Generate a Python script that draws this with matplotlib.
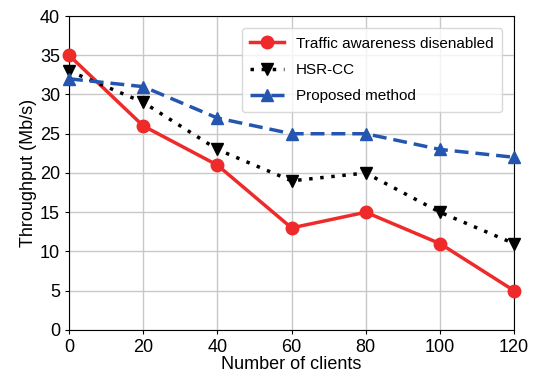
import numpy as np
import matplotlib
matplotlib.use('Agg')
import matplotlib.pyplot as plt

plt.rcParams['font.family'] = ['Liberation Sans', 'DejaVu Sans']

# throughput vs number of clients
clients = [0, 20, 40, 60, 80, 100, 120]
no_awareness = [35, 26, 21, 13, 15, 11, 5]
hsr_cc = [33, 29, 23, 19, 20, 15, 11]
proposed = [32, 31, 27, 25, 25, 23, 22]

fig = plt.figure(figsize=(5.35, 3.81), dpi=100)
ax = fig.add_axes([0.129, 0.134, 0.832, 0.824])

ax.plot(clients, no_awareness, color='#ee2a2a', lw=2.5, marker='o', ms=9,
        label='Traffic awareness disenabled', clip_on=False, zorder=3)
ax.plot(clients, hsr_cc, color='black', lw=2.5, ls=(0, (1, 2.2)), marker='v', ms=9,
        label='HSR-CC', clip_on=False, zorder=3)
ax.plot(clients, proposed, color='#2456b0', lw=2.5, ls=(0, (4, 2)), marker='^', ms=9,
        label='Proposed method', clip_on=False, zorder=3)

ax.set_xlim(0, 120)
ax.set_ylim(0, 40)
ax.set_xticks(np.arange(0, 121, 20))
ax.set_yticks(np.arange(0, 41, 5))
ax.tick_params(labelsize=13, length=3)
ax.grid(True, color='#c8c8c8', lw=1)
ax.set_axisbelow(True)

ax.set_xlabel('Number of clients', fontsize=13, labelpad=0)
ax.set_ylabel('Throughput (Mb/s)', fontsize=13, labelpad=2)

leg = ax.legend(loc='upper right', fontsize=11, frameon=True, fancybox=True,
                borderpad=0.55, labelspacing=0.8, handlelength=2.2,
                bbox_to_anchor=(0.99, 0.985))
leg.get_frame().set_edgecolor('#d0d0d0')

plt.savefig('out.png', dpi=100)
